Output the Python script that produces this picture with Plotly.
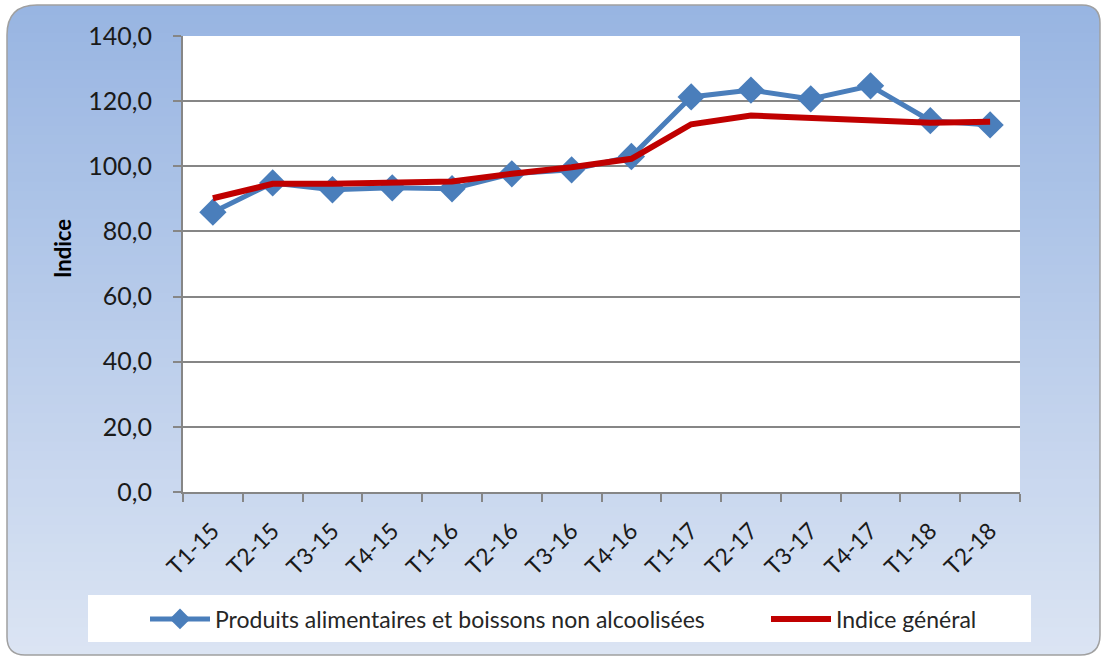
import plotly.graph_objects as go

categories = ["T1-15", "T2-15", "T3-15", "T4-15", "T1-16", "T2-16", "T3-16",
              "T4-16", "T1-17", "T2-17", "T3-17", "T4-17", "T1-18", "T2-18"]
alimentaires = [85.9, 94.9, 92.8, 93.4, 93.1, 97.7, 98.9, 103.0,
                121.3, 123.4, 120.7, 124.7, 114.0, 112.7]
general = [90.2, 94.6, 94.6, 95.0, 95.3, 97.7, 99.7, 102.3,
           112.9, 115.6, 114.8, 114.3, 113.4, 113.7]

W, H = 1102, 657
L, R, T, B = 183, 1020, 36, 492
PW, PH = R - L, B - T


def px(x):
    return (x - L) / PW


def py(y):
    return (B - y) / PH


FONT = "Lato"
fig = go.Figure()
fig.add_trace(go.Scatter(
    x=categories, y=alimentaires, mode="lines+markers",
    name="Produits alimentaires et boissons non alcoolisées",
    line=dict(color="#4A7EBB", width=5),
    marker=dict(symbol="diamond", size=21, color="#4A7EBB"),
    legend="legend",
))
fig.add_trace(go.Scatter(
    x=categories, y=general, mode="lines",
    name="Indice général",
    line=dict(color="#C00000", width=6),
    legend="legend2",
))

shapes = []
cx0, cy0, cx1, cy1 = 7, 5, 1100, 655
top_c = (152, 181, 226)
bot_c = (219, 228, 243)
n = 70
for i in range(n):
    t = i / (n - 1)
    c = tuple(int(round(top_c[k] + (bot_c[k] - top_c[k]) * t)) for k in range(3))
    ya = cy0 + (cy1 - cy0) * i / n
    yb = min(cy0 + (cy1 - cy0) * (i + 1) / n + 1, cy1)
    shapes.append(dict(type="rect", xref="paper", yref="paper", layer="below",
                       x0=px(cx0), x1=px(cx1), y0=py(ya), y1=py(yb),
                       fillcolor="rgb(%d,%d,%d)" % c, line=dict(width=0)))


def P(x, y):
    return "%f,%f" % (px(x), py(y))


r_tl, r_tr, r_bl, r_br = 30, 18, 18, 20
corners = [
    (cx0, cy0, cx0 + r_tl, cy0, cx0, cy0 + r_tl),
    (cx1, cy0, cx1 - r_tr, cy0, cx1, cy0 + r_tr),
    (cx0, cy1, cx0 + r_bl, cy1, cx0, cy1 - r_bl),
    (cx1, cy1, cx1 - r_br, cy1, cx1, cy1 - r_br),
]
for (ax, ay, bx, by, ex, ey) in corners:
    path = "M%s L%s Q%s %s Z" % (P(ax, ay), P(bx, by), P(ax, ay), P(ex, ey))
    shapes.append(dict(type="path", xref="paper", yref="paper", layer="below",
                       path=path, fillcolor="white", line=dict(width=0)))
border = ("M%s L%s Q%s %s L%s Q%s %s L%s Q%s %s L%s Q%s %s Z" % (
    P(cx0 + r_tl, cy0), P(cx1 - r_tr, cy0), P(cx1, cy0), P(cx1, cy0 + r_tr),
    P(cx1, cy1 - r_br), P(cx1, cy1), P(cx1 - r_br, cy1),
    P(cx0 + r_bl, cy1), P(cx0, cy1), P(cx0, cy1 - r_bl),
    P(cx0, cy0 + r_tl), P(cx0, cy0), P(cx0 + r_tl, cy0)))
shapes.append(dict(type="path", xref="paper", yref="paper", layer="below",
                   path=border, line=dict(color="#A0A0A0", width=1.5)))
shapes.append(dict(type="rect", xref="paper", yref="paper", layer="below",
                   x0=0, x1=1, y0=0, y1=1, fillcolor="white", line=dict(width=0)))
shapes.append(dict(type="rect", xref="paper", yref="paper", layer="below",
                   x0=px(88), x1=px(1031), y0=py(595), y1=py(642),
                   fillcolor="white", line=dict(width=0)))

legend_common = dict(orientation="h", yanchor="middle", xanchor="left",
                     bgcolor="rgba(0,0,0,0)", font=dict(size=23, family=FONT, color="#262626"),
                     itemwidth=60)

fig.update_layout(
    width=W, height=H,
    margin=dict(l=L, r=W - R, t=T, b=H - B),
    paper_bgcolor="white", plot_bgcolor="white",
    separators=", ",
    font=dict(family=FONT, color="#1A1A1A"),
    shapes=shapes,
    showlegend=True,
    legend=dict(x=px(145), y=py(619), **legend_common),
    legend2=dict(x=px(766), y=py(619), **legend_common),
    annotations=[dict(text="<b>Indice</b>", textangle=-90, xref="paper", yref="paper",
                      x=px(62), y=py(248), xanchor="center", yanchor="middle",
                      showarrow=False,
                      font=dict(size=22, family=FONT, color="#000000"))],
    xaxis=dict(type="category", tickson="boundaries", ticks="outside", ticklen=8,
               tickcolor="#868686", tickwidth=2, showline=True, linecolor="#868686",
               linewidth=2, showgrid=False, tickangle=-45,
               ticksuffix="\u2003\u2009", ticklabelshift=14,
               tickfont=dict(size=23, family=FONT), range=[-0.5, 13.5]),
    yaxis=dict(range=[0, 140], dtick=20, tickformat=".1f", ticks="outside",
               ticklen=8, tickcolor="#868686", tickwidth=2, showline=True,
               linecolor="#868686", linewidth=2, gridcolor="#868686", gridwidth=1.5,
               zeroline=False, tickfont=dict(size=25, family=FONT),
               ticklabelstandoff=16),
)

fig.write_html("out.html")
